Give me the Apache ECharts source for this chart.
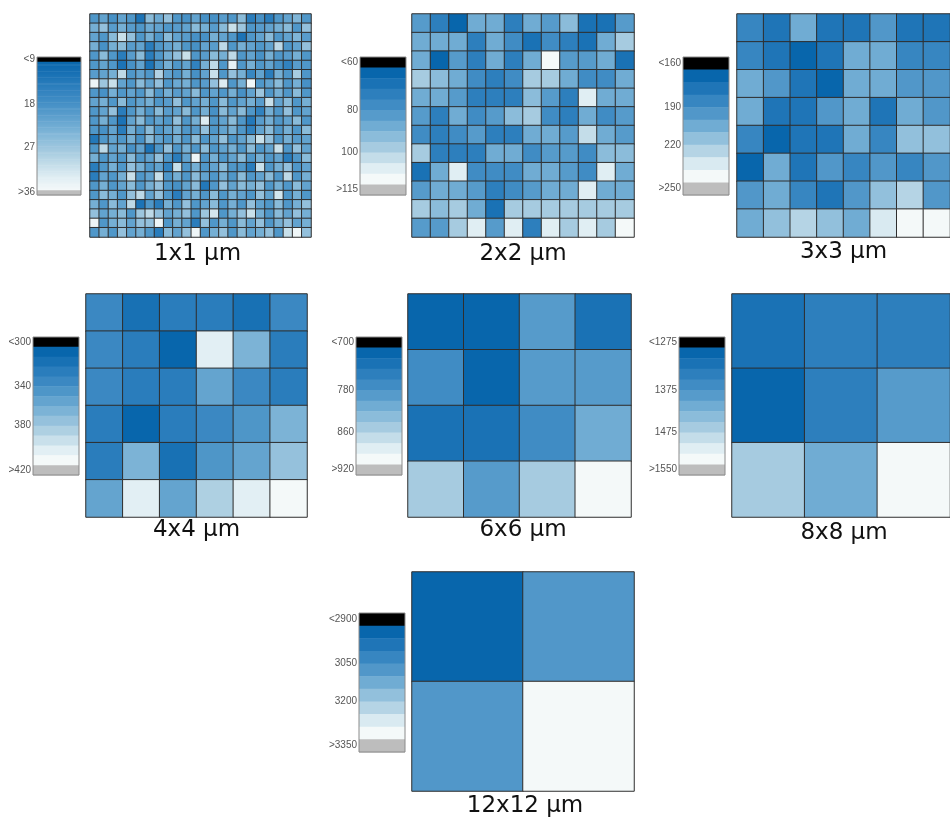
<!DOCTYPE html>
<html>
<head>
<meta charset="utf-8">
<script src="https://cdn.jsdelivr.net/npm/echarts@6/dist/echarts.min.js"></script>
<style>
  html, body { margin: 0; padding: 0; background: #ffffff; }
  #chart { width: 950px; height: 819px; }
</style>
</head>
<body>
<div id="chart"></div>
<script>
// Sampling window of each map
const panelNames = ['1x1 µm', '2x2 µm', '3x3 µm', '4x4 µm', '6x6 µm', '8x8 µm', '12x12 µm'];

// Colour-scale range of each map (below low = black, above high = grey)
const scaleLow  = [9, 60, 160, 300, 700, 1275, 2900];
const scaleHigh = [36, 115, 250, 420, 920, 1550, 3350];
// Width of one colour band (the 1x1 scale is a smooth gradient)
const scaleStep = [1, 5, 10, 10, 20, 25, 50];
// Values printed beside each colour scale
const scaleTicks = [
  [9, 18, 27, 36],
  [60, 80, 100, 115],
  [160, 190, 220, 250],
  [300, 340, 380, 420],
  [700, 780, 860, 920],
  [1275, 1375, 1475, 1550],
  [2900, 3050, 3200, 3350]
];

// Cell values, row by row from the top
const cells1x1 = [
  [19,21,18,21,19,12,25,22,26,19,18,21,18,18,20,19,25,14,18,14,19,21,24,19],
  [23,26,20,23,20,19,22,21,19,20,21,25,23,20,25,31,27,19,20,21,23,25,19,26],
  [21,19,25,31,26,19,23,19,25,21,20,18,18,23,21,19,12,19,21,25,19,21,24,20],
  [23,18,23,25,20,21,14,19,21,23,19,18,21,20,30,19,23,21,19,21,30,19,21,26],
  [19,25,19,14,20,25,14,19,23,26,31,19,20,25,23,30,19,21,18,23,19,20,23,19],
  [19,21,19,12,18,21,12,19,23,19,21,15,23,30,19,34,19,23,19,21,18,15,20,19],
  [20,21,23,30,19,21,19,29,21,19,23,18,21,31,19,26,23,16,21,14,23,19,28,19],
  [35,27,31,21,19,25,21,26,19,22,23,19,20,26,33,19,23,35.5,19,21,25,19,23,18],
  [19,18,23,19,21,19,25,19,23,20,21,25,19,21,19,23,18,21,27,19,23,19,25,19],
  [21,23,19,25,19,21,23,19,20,26,19,21,23,19,25,19,21,23,20,31,21,25,19,23],
  [19,21,26,14,19,23,19,25,20,21,25,19,23,18,25,21,25,19,15,23,19,26,19,21],
  [19,23,19,12,21,25,19,21,19,26,19,23,33,19,21,25,19,13,20,23,19,21,25,19],
  [19,18,21,14,23,19,25,19,21,23,19,20,26,19,21,23,19,15,21,25,19,23,19,25],
  [13,19,21,19,23,18,25,21,19,23,19,25,19,21,26,19,21,25,31,26,19,23,20,21],
  [19,30,21,23,18,21,12,19,26,19,23,19,25,19,21,23,19,25,19,21,31,19,26,21],
  [23,19,21,19,25,19,21,26,19,14,21,35,19,23,19,21,25,19,23,19,21,14,19,25],
  [14,19,23,19,26,23,19,21,15,31,19,23,19,21,25,19,19,14,31,19,23,26,19,21],
  [14,21,19,23,31,19,21,31,19,23,19,25,21,19,23,19,25,19,21,25,19,30,19,23],
  [19,23,19,21,25,19,23,26,19,18,21,25,13,19,26,21,25,23,26,19,23,19,25,21],
  [19,25,23,19,26,30,21,26,19,14,21,23,19,25,19,23,21,19,26,21,32,19,23,19],
  [23,19,25,21,30,12,19,14,23,19,26,19,21,25,19,23,19,26,21,19,25,19,23,26],
  [26,21,23,25,19,27,30,26,21,23,26,19,27,32,19,23,26,31,23,19,25,21,26,23],
  [35,19,23,25,21,26,26,35,19,23,21,14,26,19,23,19,25,21,26,19,23,26,21,23],
  [19,23,19,26,21,23,19,14,25,21,26,35,19,23,26,19,25,21,23,26,19,31,35.5,26]
];
const cells2x2 = [
  [84,74,62,88,85,71,87,80,93,69,69,84],
  [85,88,88,72,85,79,69,78,74,69,89,99],
  [85,64,80,71,87,71,88,110,80,80,87,69],
  [97,94,85,78,74,79,95,99,89,79,75,89],
  [85,88,80,74,71,74,94,80,71,109,85,89],
  [80,71,88,78,84,93,97,79,71,85,75,80],
  [75,74,78,84,71,71,87,85,80,100,89,84],
  [99,71,71,74,88,87,79,84,80,75,93,94],
  [68,85,106,75,79,78,88,87,80,75,108,85],
  [80,88,85,84,71,75,80,88,87,107,89,89],
  [95,93,99,85,65,95,99,95,98,95,98,99],
  [84,80,97,108,80,109,74,107,99,108,97,114]
];
const cells3x3 = [
  [180,173,208,173,175,193,173,175],
  [182,173,164,173,208,208,185,187],
  [204,193,173,164,206,208,193,191],
  [206,173,175,193,208,173,204,190],
  [182,164,173,175,206,187,216,214],
  [164,208,175,193,185,193,182,199],
  [193,206,182,173,193,218,226,196],
  [200,214,226,218,208,238,248,240]
];
const cells4x4 = [
  [334,318,327,327,318,334],
  [334,320,302,400,361,324],
  [336,327,324,359,336,327],
  [320,305,324,336,342,367],
  [324,364,318,344,354,377],
  [354,400,354,388,407,418]
];
const cells6x6 = [
  [704,704,781,733],
  [777,703,799,795],
  [733,733,777,812],
  [841,799,856,915]
];
const cells8x8 = [
  [1316,1344,1344],
  [1278,1344,1393],
  [1451,1421,1544]
];
const cells12x12 = [
  [2905,3094],
  [3094,3340]
];

const cellSets = [cells1x1, cells2x2, cells3x3, cells4x4, cells6x6, cells8x8, cells12x12];

// Dark-to-light blue ramp
const blues = ['#0866ac', '#1a72b5', '#2d7fbd', '#408cc4', '#569bcb', '#70acd3',
               '#8bbcda', '#a6cbe0', '#c4dde9', '#e0eef3', '#f4f9f9'];
const belowColor = '#000000';
const aboveColor = '#bdbdbd';

// Page layout: [left, top, width, height]
const mapBoxes = [
  [90, 14, 221, 223], [412, 14, 222, 223], [737, 14, 222, 223],
  [86, 294, 221, 223], [408, 294, 223, 223], [732, 294, 222, 223],
  [412, 572, 222, 221]
];
const keyBoxes = [
  [37, 57, 44, 138], [360, 57, 46, 138], [683, 57, 46, 138],
  [33, 337, 46, 138], [356, 337, 46, 138], [679, 337, 46, 138],
  [359, 613, 46, 139]
];
const nameGaps = [6, 6, 4, 2, 2, 5, 4];
// horizontal nudge of each map caption: [left pad, right pad]
const namePads = [[0, 6], [0, 0], [0, 0], [0, 0], [7, 0], [6, 0], [4, 0]];

const grid = [], xAxis = [], yAxis = [], series = [], visualMap = [];

cellSets.forEach(function (rows, p) {
  const lo = scaleLow[p], hi = scaleHigh[p], st = scaleStep[p];
  const smooth = (p === 0);
  const n = rows.length;
  const idx = Array.from({ length: n }, function (_, i) { return String(i); });

  // ---- heat map ----
  const gi = grid.length;
  const b = mapBoxes[p];
  grid.push({ left: b[0], top: b[1], width: b[2], height: b[3], show: false });
  xAxis.push({
    type: 'category', gridIndex: gi, data: idx,
    axisLine: { show: false }, axisTick: { show: false },
    axisLabel: { show: false }, splitLine: { show: false },
    name: panelNames[p], nameLocation: 'middle', nameGap: nameGaps[p],
    nameTextStyle: {
      fontFamily: 'DejaVu Sans', fontSize: 23, color: '#111111',
      padding: [0, namePads[p][1], 0, namePads[p][0]]
    }
  });
  yAxis.push({ type: 'category', gridIndex: gi, data: idx, inverse: true, show: false });

  const data = [];
  rows.forEach(function (row, r) {
    row.forEach(function (v, c) { data.push([c, r, v]); });
  });
  const si = series.length;
  series.push({
    type: 'heatmap', xAxisIndex: gi, yAxisIndex: gi, data: data,
    itemStyle: { borderColor: '#2e2e2e', borderWidth: 1 },
    emphasis: { disabled: true }
  });

  // ---- colour mapping + key bands ----
  const bands = [{ value: [lo - st, lo], itemStyle: { color: belowColor } }];
  if (smooth) {
    visualMap.push({
      type: 'continuous', show: false, seriesIndex: si, dimension: 2,
      min: lo, max: hi, inRange: { color: blues }
    });
    const fine = 0.25;
    for (let v = lo; v < hi - 1e-9; v += fine) {
      bands.push({
        value: [v, v + fine],
        itemStyle: { color: echarts.color.lerp((v + fine / 2 - lo) / (hi - lo), blues) }
      });
    }
  } else {
    const nb = Math.round((hi - lo) / st);
    const pieces = [{ lt: lo, color: belowColor }];
    for (let i = 0; i < nb; i++) {
      const col = echarts.color.lerp(i / (nb - 1), blues);
      pieces.push({ gte: lo + i * st, lt: lo + (i + 1) * st, color: col });
      bands.push({ value: [lo + i * st, lo + (i + 1) * st], itemStyle: { color: col } });
    }
    pieces.push({ gte: hi, color: aboveColor });
    visualMap.push({ type: 'piecewise', show: false, seriesIndex: si, dimension: 2, pieces: pieces });
  }
  bands.push({ value: [hi, hi + st], itemStyle: { color: aboveColor } });

  // ---- colour key ----
  const ki = grid.length;
  const k = keyBoxes[p];
  grid.push({
    left: k[0], top: k[1], width: k[2], height: k[3], show: true, z: 3,
    borderColor: '#8a8a8a', borderWidth: 1, backgroundColor: 'transparent'
  });
  xAxis.push({ type: 'value', gridIndex: ki, min: 0, max: 1, show: false });
  const tk = scaleTicks[p];
  const last = tk.length - 1;
  const tickPos = tk.map(function (v, i) {
    return i === 0 ? lo - st / 2 : (i === last ? hi + st / 2 : v);
  });
  yAxis.push({
    type: 'value', gridIndex: ki, inverse: true, min: lo - st, max: hi + st,
    axisLine: { show: false }, axisTick: { show: false }, splitLine: { show: false },
    axisLabel: {
      customValues: tickPos, margin: 2, fontSize: 10, color: '#555555',
      fontFamily: 'Liberation Sans',
      formatter: function (v) {
        for (let i = 0; i <= last; i++) {
          if (Math.abs(tickPos[i] - v) < 1e-6) {
            return i === 0 ? '<' + tk[0] : (i === last ? '>' + tk[last] : String(tk[i]));
          }
        }
        return '';
      }
    }
  });
  series.push({
    type: 'custom', xAxisIndex: ki, yAxisIndex: ki, data: bands,
    encode: { y: [0, 1] },
    renderItem: function (params, api) {
      const a = api.coord([0, api.value(0)]);
      const c = api.coord([1, api.value(1)]);
      return {
        type: 'rect',
        shape: { x: a[0], y: a[1], width: c[0] - a[0], height: c[1] - a[1] + 0.5 },
        style: { fill: api.visual('color') }
      };
    }
  });
});

const chart = echarts.init(document.getElementById('chart'), null, { renderer: 'canvas' });
chart.setOption({
  animation: false,
  backgroundColor: '#ffffff',
  grid: grid,
  xAxis: xAxis,
  yAxis: yAxis,
  visualMap: visualMap,
  series: series
});
</script>
</body>
</html>
